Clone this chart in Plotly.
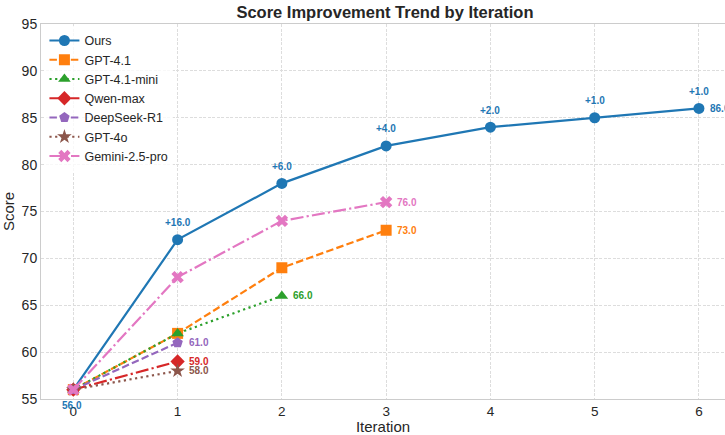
import plotly.graph_objects as go

iterations = [0, 1, 2, 3, 4, 5, 6]
models = ["Ours", "GPT-4.1", "GPT-4.1-mini", "Qwen-max", "DeepSeek-R1", "GPT-4o", "Gemini-2.5-pro"]
scores = {
    "Ours": [56, 72, 78, 82, 84, 85, 86],
    "GPT-4.1": [56, 62, 69, 73],
    "GPT-4.1-mini": [56, 62, 66],
    "Qwen-max": [56, 59],
    "DeepSeek-R1": [56, 61],
    "GPT-4o": [56, 58],
    "Gemini-2.5-pro": [56, 68, 74, 76],
}
colors = ["#1f77b4", "#ff7f0e", "#2ca02c", "#d62728", "#9467bd", "#8c564b", "#e377c2"]
dashes = ["solid", "7.5px,3.2px", "2.2px,3.5px", "13px,3.2px,2.2px,3.2px",
          "7.5px,3.2px", "2.2px,3.5px", "13px,3.2px,2.2px,3.2px"]
symbols = ["circle", "square", "triangle-up", "diamond", "pentagon", "star", "x"]
y_ticks = [55, 60, 65, 70, 75, 80, 85, 90, 95]

FONT = "Liberation Sans, Arial, sans-serif"

fig = go.Figure()
for i, m in enumerate(models):
    ys = scores[m]
    xs = iterations[:len(ys)]
    fig.add_trace(go.Scatter(
        x=xs, y=ys, name=m, mode="lines+markers",
        line=dict(color=colors[i], width=2.2, dash=dashes[i]),
        marker=dict(symbol=symbols[i], size=11, color=colors[i], line=dict(width=0)),
        legendrank=i,
    ))

annotations = []
for i, m in enumerate(models):
    ys = scores[m]
    annotations.append(dict(
        x=len(ys) - 1, y=ys[-1], text=f"<b>{ys[-1]:.1f}</b>", showarrow=False,
        xanchor="left", yanchor="middle", xshift=9,
        font=dict(size=10, color=colors[i], family=FONT),
    ))
annotations.append(dict(
    x=0, y=scores["Ours"][0], text=f"<b>{scores['Ours'][0]:.1f}</b>", showarrow=False,
    xanchor="center", yanchor="middle", xshift=-1, yshift=-16,
    font=dict(size=10, color=colors[0], family=FONT),
))
ours = scores["Ours"]
for k in range(1, len(ours)):
    annotations.append(dict(
        x=iterations[k], y=ours[k], text=f"<b>+{ours[k]-ours[k-1]:.1f}</b>", showarrow=False,
        xanchor="center", yanchor="middle", yshift=17,
        font=dict(size=10, color=colors[0], family=FONT),
    ))

fig.update_layout(
    width=725, height=435,
    margin=dict(l=41, r=0, t=24, b=36),
    paper_bgcolor="white", plot_bgcolor="white",
    font=dict(family=FONT, color="#262626"),
    title=dict(text="<b>Score Improvement Trend by Iteration</b>", x=0.531, xanchor="center",
               y=0.972, yanchor="middle", font=dict(size=16.5, color="#262626")),
    legend=dict(x=0.005, y=0.995, xanchor="left", yanchor="top", bgcolor="rgba(255,255,255,0.8)",
                font=dict(size=12.5, color="#262626"), tracegroupgap=0, itemwidth=30),
    annotations=annotations,
    showlegend=True,
)
grid = dict(showgrid=True, gridcolor="#dddddd", griddash="3px,1.5px", gridwidth=0.8,
            showline=True, linecolor="#cccccc", mirror=True, zeroline=False, ticks="")
fig.update_xaxes(
    range=[-0.31, 6.25], tickvals=iterations, ticktext=[str(v) for v in iterations],
    title=dict(text="Iteration", font=dict(size=15), standoff=6),
    tickfont=dict(size=13.5), ticklabelstandoff=0, **grid,
)
fig.update_yaxes(
    range=[55, 95], tickvals=y_ticks,
    title=dict(text="Score", font=dict(size=15), standoff=6),
    tickfont=dict(size=14), **grid,
)
fig.write_html("out.html", config={"displayModeBar": False},
               post_script="document.body.style.margin='0px';")
